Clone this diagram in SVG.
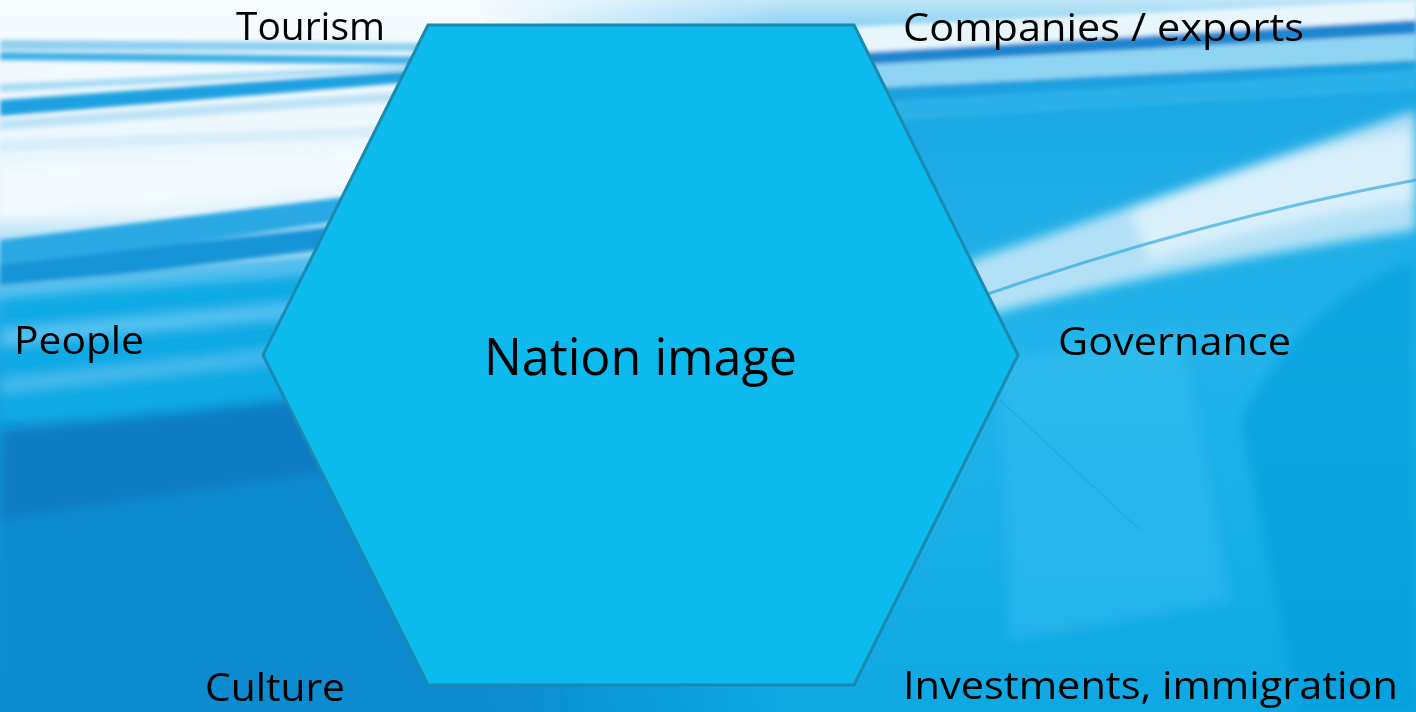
<svg xmlns="http://www.w3.org/2000/svg" width="1416" height="712" viewBox="0 0 1416 712">
<defs>
<linearGradient id="bgL" x1="0" y1="0" x2="0" y2="1">
<stop offset="0" stop-color="#f6fbfe"/>
<stop offset="0.3" stop-color="#e6f4fb"/>
<stop offset="0.45" stop-color="#1aa6e4"/>
<stop offset="0.7" stop-color="#0893d6"/>
<stop offset="1" stop-color="#078bd0"/>
</linearGradient>
<linearGradient id="bgR" x1="0" y1="0" x2="0" y2="1">
<stop offset="0" stop-color="#bfe6f8"/>
<stop offset="0.12" stop-color="#1aa7e4"/>
<stop offset="0.5" stop-color="#22b4ea"/>
<stop offset="1" stop-color="#0ea8e3"/>
</linearGradient>
<linearGradient id="fadeR" x1="0" y1="0" x2="1" y2="0">
<stop offset="0" stop-color="#fff" stop-opacity="0"/>
<stop offset="1" stop-color="#fff" stop-opacity="1"/>
</linearGradient>
<mask id="rmask"><rect x="480" y="0" width="300" height="712" fill="url(#fadeR)"/><rect x="780" y="0" width="636" height="712" fill="#fff"/></mask>
<filter id="blur6" x="-10%" y="-50%" width="120%" height="200%"><feGaussianBlur stdDeviation="6"/></filter>
<filter id="blur2" x="-10%" y="-50%" width="120%" height="200%"><feGaussianBlur stdDeviation="2"/></filter>
<style>
.lbl{font-family:"Open Sans","Liberation Sans",sans-serif;font-size:39px;fill:#000}
.main{font-family:"Open Sans","Liberation Sans",sans-serif;font-size:52px;fill:#000}
.hex{fill:#0dbaee;stroke:#1a8ab0;stroke-width:3;stroke-linejoin:miter}
</style>
</defs>
<g id="background">
<rect x="0" y="0" width="1416" height="712" fill="url(#bgL)"/>
<!-- left top streaks -->
<g filter="url(#blur2)">
<path d="M0,40 L560,44 L560,52 L0,50 Z" fill="#8fd0f0"/>
<path d="M0,52 L560,58 L560,66 L0,60 Z" fill="#3bb0e6"/>
<path d="M0,100 L560,60 L560,70 L0,116 Z" fill="#1aa0e0"/>
<path d="M0,84 L560,58 L560,62 L0,92 Z" fill="#a8dcf4"/>
<path d="M0,120 L560,80 L560,90 L0,130 Z" fill="#bfe4f6"/>
<path d="M0,140 L560,120 L560,130 L0,152 Z" fill="#d8eef9"/>
<path d="M0,240 L560,170 L560,190 L0,270 Z" fill="#2ba8e4"/>
<path d="M0,265 L560,200 L560,220 L0,290 Z" fill="#1694d8"/>
<path d="M0,285 L560,235 L560,245 L0,300 Z" fill="#58bfec"/>
</g>
<g filter="url(#blur6)">
<path d="M0,170 L560,140 L560,170 L0,215 Z" fill="#f4fbfe"/>
<path d="M0,300 L560,250 L560,420 L0,420 Z" fill="#0eaae6"/>
<path d="M0,330 L560,280 L560,290 L0,345 Z" fill="#58c4f0"/>
<path d="M0,380 L560,320 L560,330 L0,392 Z" fill="#4cbdee"/>
<path d="M0,430 L560,370 L560,440 L0,520 Z" fill="#0a7cc4"/>
<path d="M0,520 L560,440 L560,740 L0,740 Z" fill="#078bd0"/>
</g>
<g mask="url(#rmask)">
<rect x="480" y="0" width="936" height="712" fill="url(#bgR)"/>
<g filter="url(#blur2)">
<path d="M700,34 L1416,0 L1416,20 L700,62 Z" fill="#e8f6fc"/>
<path d="M700,62 L1416,20 L1416,34 L700,74 Z" fill="#1f86d0"/>
<path d="M700,74 L1416,34 L1416,60 L700,97 Z" fill="#8fd3f2"/>
<path d="M700,97 L1416,60 L1416,70 L700,112 Z" fill="#1aa0e0"/>
<path d="M700,112 L1416,70 L1416,90 L700,132 Z" fill="#2cb0e8"/>
</g>
<g filter="url(#blur6)">
<path d="M900,285 Q1150,200 1416,110 L1416,230 Q1150,270 950,325 Z" fill="#cdeaf8" opacity="0.85"/>
<path d="M1130,210 Q1280,150 1416,130 L1416,200 Q1280,220 1150,260 Z" fill="#eaf6fc" opacity="0.7"/>
<path d="M1240,420 Q1300,300 1416,260 L1416,712 L1300,712 Z" fill="#0a9ddc" opacity="0.6"/>
<path d="M1000,360 L1180,330 L1230,600 L1010,640 Z" fill="#3cc0ef" opacity="0.45"/>
</g>
<path d="M970,300 Q1200,220 1416,180" fill="none" stroke="#1a9ee0" stroke-width="3" opacity="0.6"/>
<path d="M1000,400 L1140,530" fill="none" stroke="#1898d4" stroke-width="1.5" opacity="0.4"/>
</g>
</g>
<g id="connectors"></g>
<g id="hexagon">
<polygon class="hex" points="428,25 854,25 1018,355 854,685 428,685 263,355"/>
<text class="main" x="484" y="375" textLength="313" lengthAdjust="spacingAndGlyphs">Nation image</text>
</g>
<g id="tourism"><text class="lbl" x="236" y="40" textLength="149" lengthAdjust="spacingAndGlyphs">Tourism</text></g>
<g id="companies"><text class="lbl" x="903" y="41" textLength="401" lengthAdjust="spacingAndGlyphs">Companies / exports</text></g>
<g id="people"><text class="lbl" x="14" y="354" textLength="130" lengthAdjust="spacingAndGlyphs">People</text></g>
<g id="governance"><text class="lbl" x="1058" y="355" textLength="233" lengthAdjust="spacingAndGlyphs">Governance</text></g>
<g id="culture"><text class="lbl" x="205" y="701" textLength="140" lengthAdjust="spacingAndGlyphs">Culture</text></g>
<g id="investments"><text class="lbl" x="903" y="699" textLength="495" lengthAdjust="spacingAndGlyphs">Investments, immigration</text></g>
</svg>
